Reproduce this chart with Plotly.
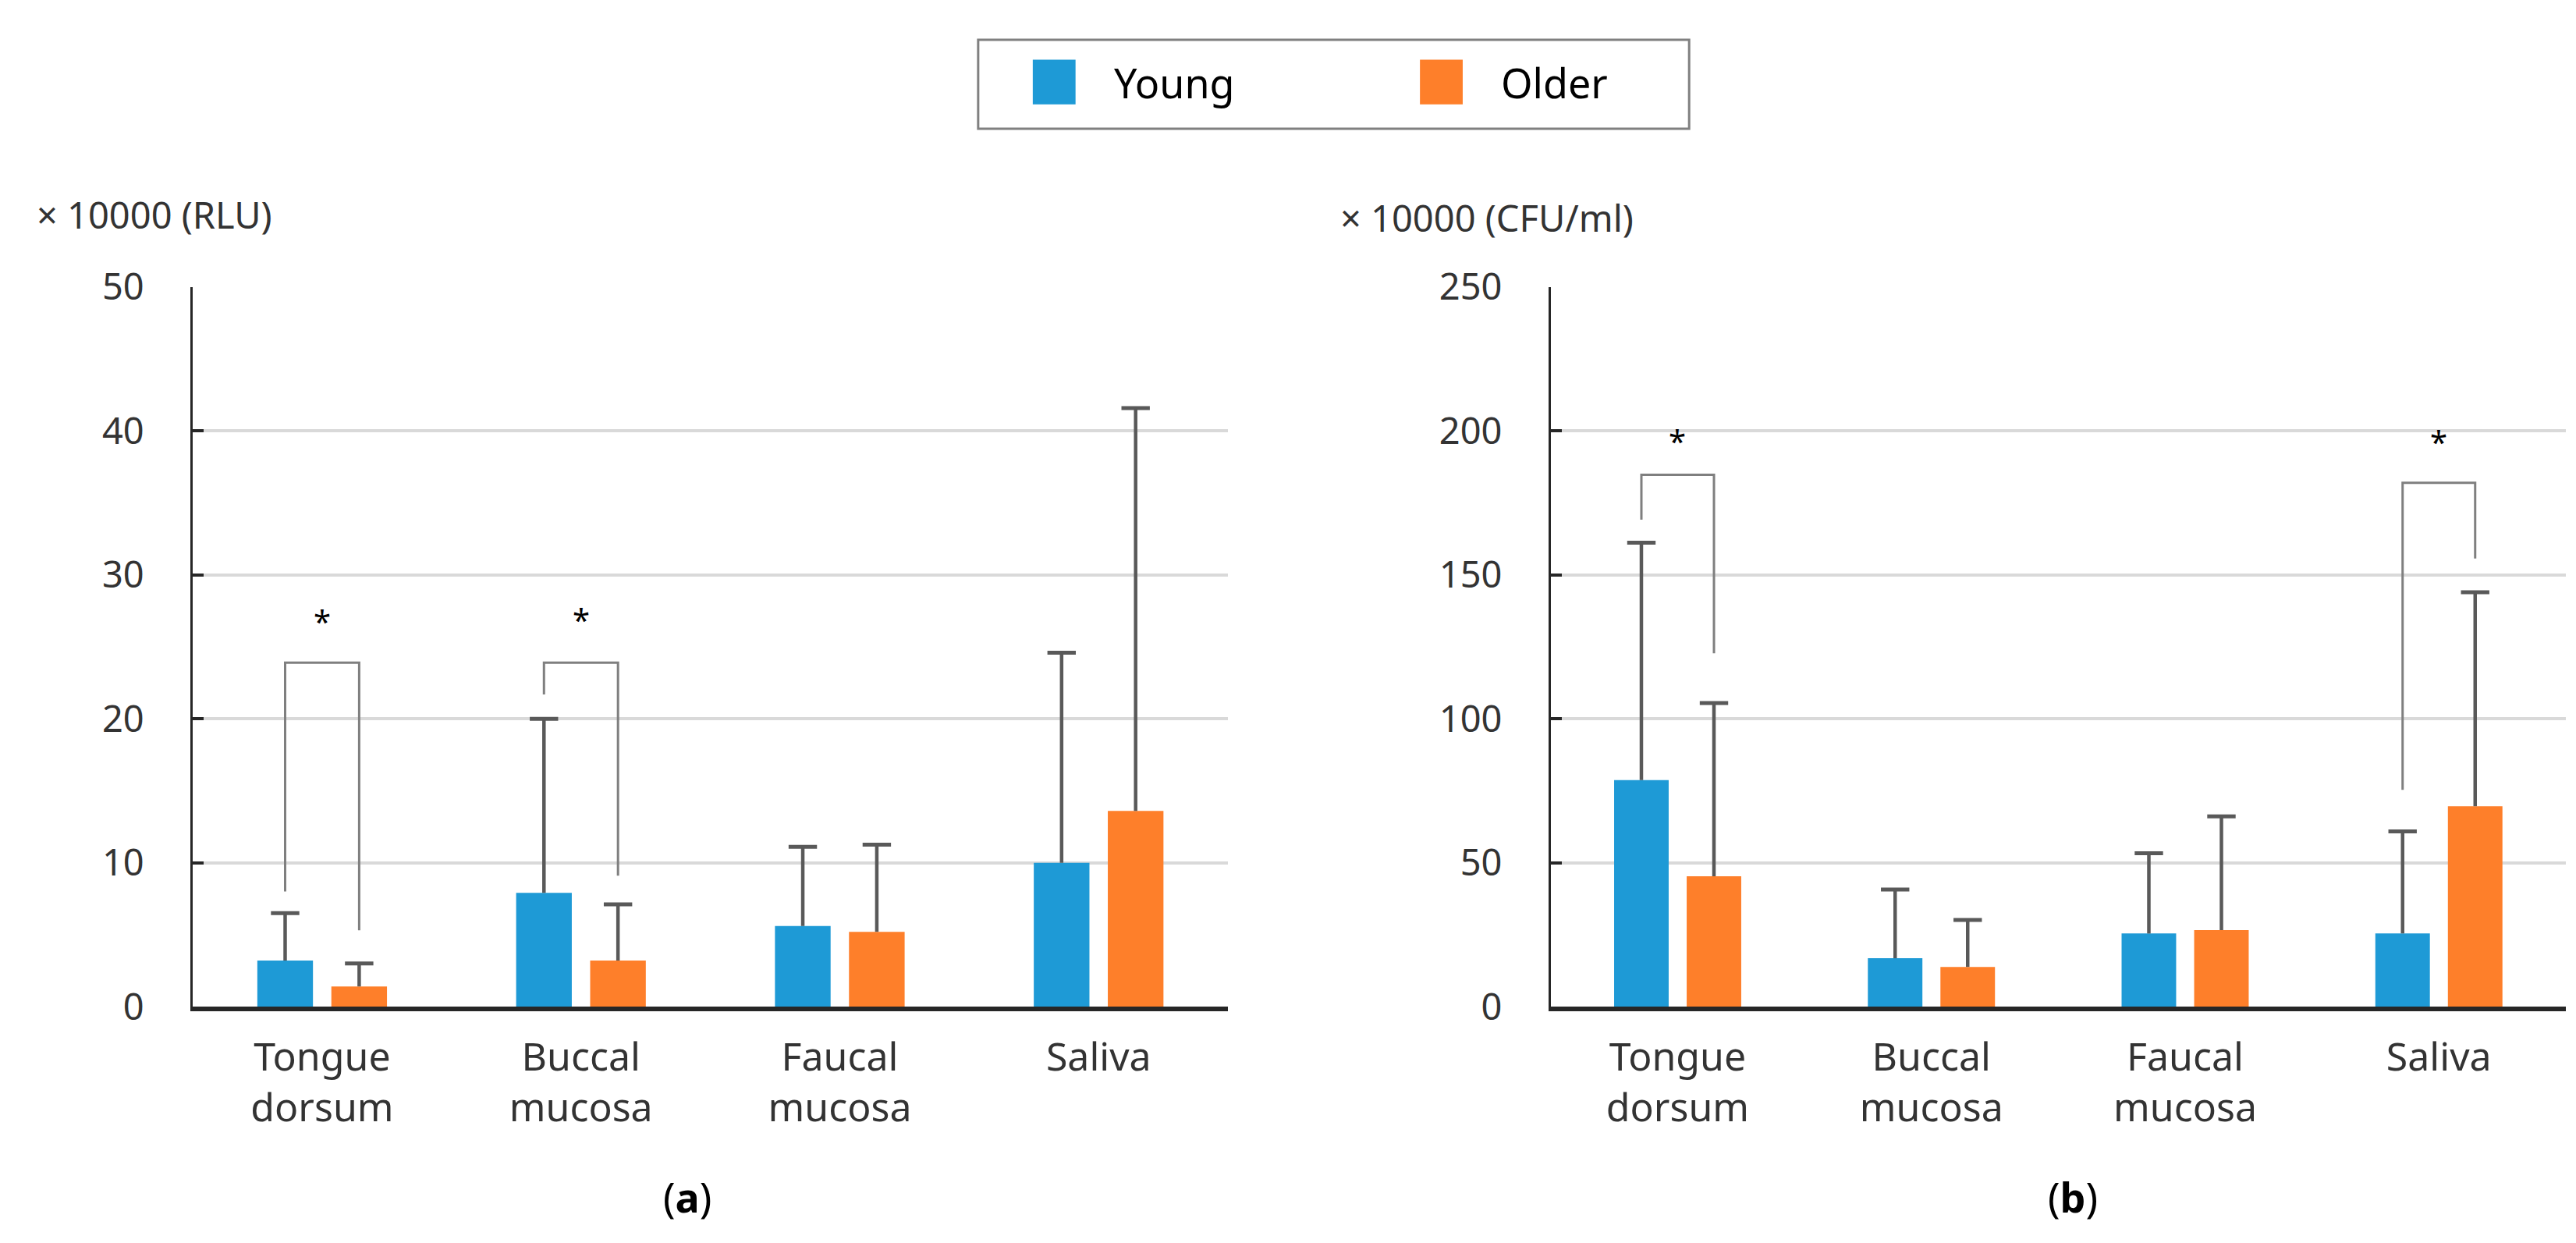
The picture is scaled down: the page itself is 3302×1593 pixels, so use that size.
import plotly.graph_objects as go

# categories and series
categories = ["Tongue<br>dorsum", "Buccal<br>mucosa", "Faucal<br>mucosa", "Saliva"]
series_names = ["Young", "Older"]
colors = ["#1E9AD6", "#FE7F2A"]

# (a) ATP, x10000 RLU : means and SD (upper error only)
rlu_young = [3.2, 7.9, 5.6, 10.0]
rlu_young_sd = [3.3, 12.1, 5.5, 14.6]
rlu_older = [1.4, 3.2, 5.2, 13.6]
rlu_older_sd = [1.6, 3.9, 6.05, 28.0]

# (b) bacteria count, x10000 CFU/ml
cfu_young = [78.7, 16.8, 25.4, 25.4]
cfu_young_sd = [82.5, 23.9, 27.9, 35.5]
cfu_older = [45.3, 13.8, 26.6, 69.6]
cfu_older_sd = [60.2, 16.3, 39.5, 74.4]

# significance brackets: category index, bracket top, left leg end, right leg end, star height
sig_a_idx = [0, 1]
sig_a_top = [23.9, 23.9]
sig_a_left = [8.0, 21.7]
sig_a_right = [5.3, 9.1]
sig_a_star = [26.8, 26.9]

sig_b_idx = [0, 3]
sig_b_top = [184.8, 182.0]
sig_b_left = [169.2, 75.3]
sig_b_right = [122.8, 155.7]
sig_b_star = [196.7, 196.5]

FONT = "Noto Sans"
ERR = "#595959"
BRK = "#7F7F7F"
AXIS = "#262626"
TXT = "#333333"
offsets = [-0.143, 0.143]

panels = [
    ("x", "y", [rlu_young, rlu_older], [rlu_young_sd, rlu_older_sd],
     sig_a_idx, sig_a_top, sig_a_left, sig_a_right, sig_a_star),
    ("x2", "y2", [cfu_young, cfu_older], [cfu_young_sd, cfu_older_sd],
     sig_b_idx, sig_b_top, sig_b_left, sig_b_right, sig_b_star),
]

fig = go.Figure()
annotations = []

for xa, ya, means, sds, s_idx, s_top, s_left, s_right, s_star in panels:
    for k in range(2):
        xs = [i + offsets[k] for i in range(len(categories))]
        fig.add_trace(go.Bar(
            x=xs, y=means[k], width=0.215, name=series_names[k],
            marker=dict(color=colors[k], line_width=0),
            error_y=dict(type="data", array=sds[k], arrayminus=[0] * len(sds[k]),
                         symmetric=False, width=0, thickness=4.5, color=ERR),
            xaxis=xa, yaxis=ya, showlegend=False))
        # error bar caps
        fig.add_trace(go.Scatter(
            x=xs, y=[m + s for m, s in zip(means[k], sds[k])], mode="markers",
            marker=dict(symbol="line-ew", size=26, line=dict(width=5, color=ERR)),
            xaxis=xa, yaxis=ya, showlegend=False, hoverinfo="skip"))
    # brackets and stars
    for j in range(len(s_idx)):
        x1 = s_idx[j] + offsets[0]
        x2 = s_idx[j] + offsets[1]
        fig.add_trace(go.Scatter(
            x=[x1, x1, x2, x2], y=[s_left[j], s_top[j], s_top[j], s_right[j]],
            mode="lines", line=dict(color=BRK, width=3),
            xaxis=xa, yaxis=ya, showlegend=False, hoverinfo="skip"))
        annotations.append(dict(x=s_idx[j], y=s_star[j], xref=xa, yref=ya, text="*",
                                yanchor="middle", showarrow=False,
                                font=dict(family=FONT, size=40, color="black")))

xcommon = dict(range=[-0.5, 3.5], tickvals=list(range(len(categories))), ticktext=categories,
               showgrid=False, zeroline=False, showline=True, linecolor=AXIS, linewidth=6,
               ticks="", tickfont=dict(family=FONT, size=50, color=TXT),
               ticklabelstandoff=16, automargin=False)
ycommon = dict(showgrid=True, gridcolor="#D9D9D9", gridwidth=4, zeroline=False,
               showline=True, linecolor=AXIS, linewidth=3, ticks="inside", ticklen=14,
               tickwidth=4, tickcolor=AXIS, tickfont=dict(family=FONT, size=47, color=TXT),
               ticklabelstandoff=50, automargin=False, domain=[0.1952, 0.774])

# unit labels and panel labels
annotations += [
    dict(x=0.0112, y=0.8322, xref="paper", yref="paper", text="× 10000 (RLU)",
         xanchor="left", yanchor="middle",
         showarrow=False, font=dict(family=FONT, size=47, color=TXT)),
    dict(x=0.5173, y=0.8300, xref="paper", yref="paper", text="× 10000 (CFU/ml)",
         xanchor="left", yanchor="middle",
         showarrow=False, font=dict(family=FONT, size=47, color=TXT)),
    dict(x=0.2644, y=0.0426, xref="paper", yref="paper", text="(<b>a</b>)",
         xanchor="center", yanchor="middle",
         showarrow=False, font=dict(family=FONT, size=52, color="black")),
    dict(x=0.8022, y=0.0426, xref="paper", yref="paper", text="(<b>b</b>)",
         xanchor="center", yanchor="middle",
         showarrow=False, font=dict(family=FONT, size=52, color="black")),
]

# manual legend
shapes = [dict(type="rect", xref="paper", yref="paper", x0=0.3773, x1=0.6533, y0=0.9014, y1=0.973,
               line=dict(color="#808080", width=3), fillcolor="white")]
legend_x = [0.3985, 0.5488]
for k in range(2):
    shapes.append(dict(type="rect", xref="paper", yref="paper", x0=legend_x[k], x1=legend_x[k] + 0.0166,
                       y0=0.921, y1=0.957, line_width=0, fillcolor=colors[k]))
    annotations.append(dict(x=legend_x[k] + 0.031, y=0.939, xref="paper", yref="paper",
                            text=series_names[k], xanchor="left", yanchor="middle", showarrow=False,
                            font=dict(family=FONT, size=52, color="black")))

fig.update_layout(
    width=3302, height=1593, margin=dict(l=0, r=0, t=0, b=0),
    paper_bgcolor="white", plot_bgcolor="white", barmode="overlay",
    xaxis=dict(xcommon, domain=[0.0724, 0.4743], anchor="y"),
    yaxis=dict(ycommon, range=[0, 50], dtick=10, anchor="x"),
    xaxis2=dict(xcommon, domain=[0.5996, 0.9936], anchor="y2"),
    yaxis2=dict(ycommon, range=[0, 250], dtick=50, anchor="x2"),
    annotations=annotations, shapes=shapes,
)

fig.write_html("out.html")
